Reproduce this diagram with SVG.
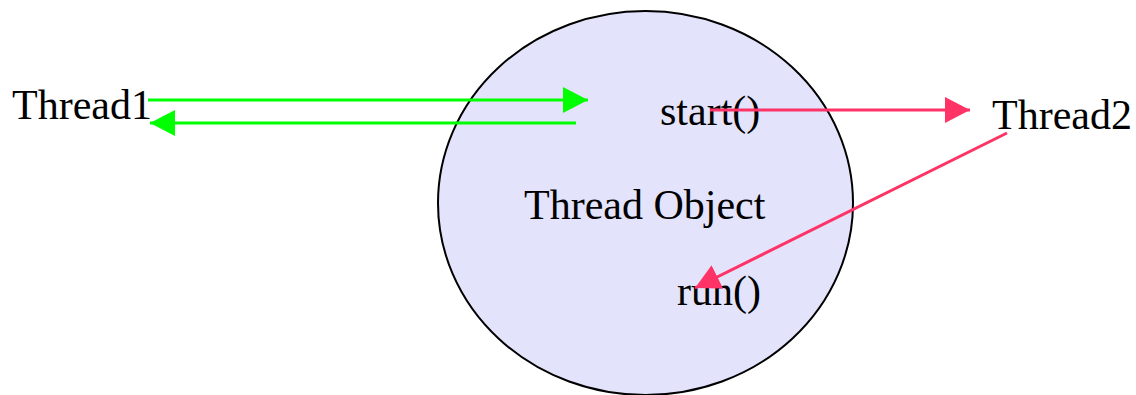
<svg xmlns="http://www.w3.org/2000/svg" width="1136" height="395" viewBox="0 0 1136 395">
  <style>
    .lbl { font-family: "Liberation Serif", "Times New Roman", serif; font-size: 42px; fill: #000; }
    .green { stroke: #00ff00; stroke-width: 3; fill: none; }
    .red { stroke: #ff3366; stroke-width: 3; fill: none; }
  </style>
  <defs>
    <marker id="headGreen" markerUnits="userSpaceOnUse" markerWidth="26" markerHeight="26" refX="25" refY="13" orient="auto">
      <path d="M0,0 L25,13 L0,26 Z" fill="#00ff00"/>
    </marker>
    <marker id="headRed" markerUnits="userSpaceOnUse" markerWidth="26" markerHeight="26" refX="25" refY="13" orient="auto">
      <path d="M0,0 L25,13 L0,26 Z" fill="#ff3366"/>
    </marker>
  </defs>

  <rect width="1136" height="395" fill="#fff"/>

  <g id="thread-object">
    <ellipse cx="645.5" cy="203" rx="207.5" ry="192" fill="#e3e3fb" stroke="#000" stroke-width="2"/>
    <text class="lbl" x="524" y="219">Thread Object</text>
    <text class="lbl" x="660" y="125">start()</text>
    <text class="lbl" x="677" y="305">run()</text>
  </g>

  <g id="thread1">
    <text class="lbl" x="12" y="119">Thread1</text>
  </g>

  <g id="thread2">
    <text class="lbl" x="992" y="129">Thread2</text>
  </g>

  <g id="connectors">
    <line class="green" x1="148" y1="100" x2="588" y2="100" marker-end="url(#headGreen)"/>
    <line class="green" x1="576" y1="123" x2="150" y2="123" marker-end="url(#headGreen)"/>
    <line class="red" x1="710" y1="110" x2="970" y2="110" marker-end="url(#headRed)"/>
    <line class="red" x1="1007" y1="133" x2="695" y2="288" marker-end="url(#headRed)"/>
  </g>
</svg>
